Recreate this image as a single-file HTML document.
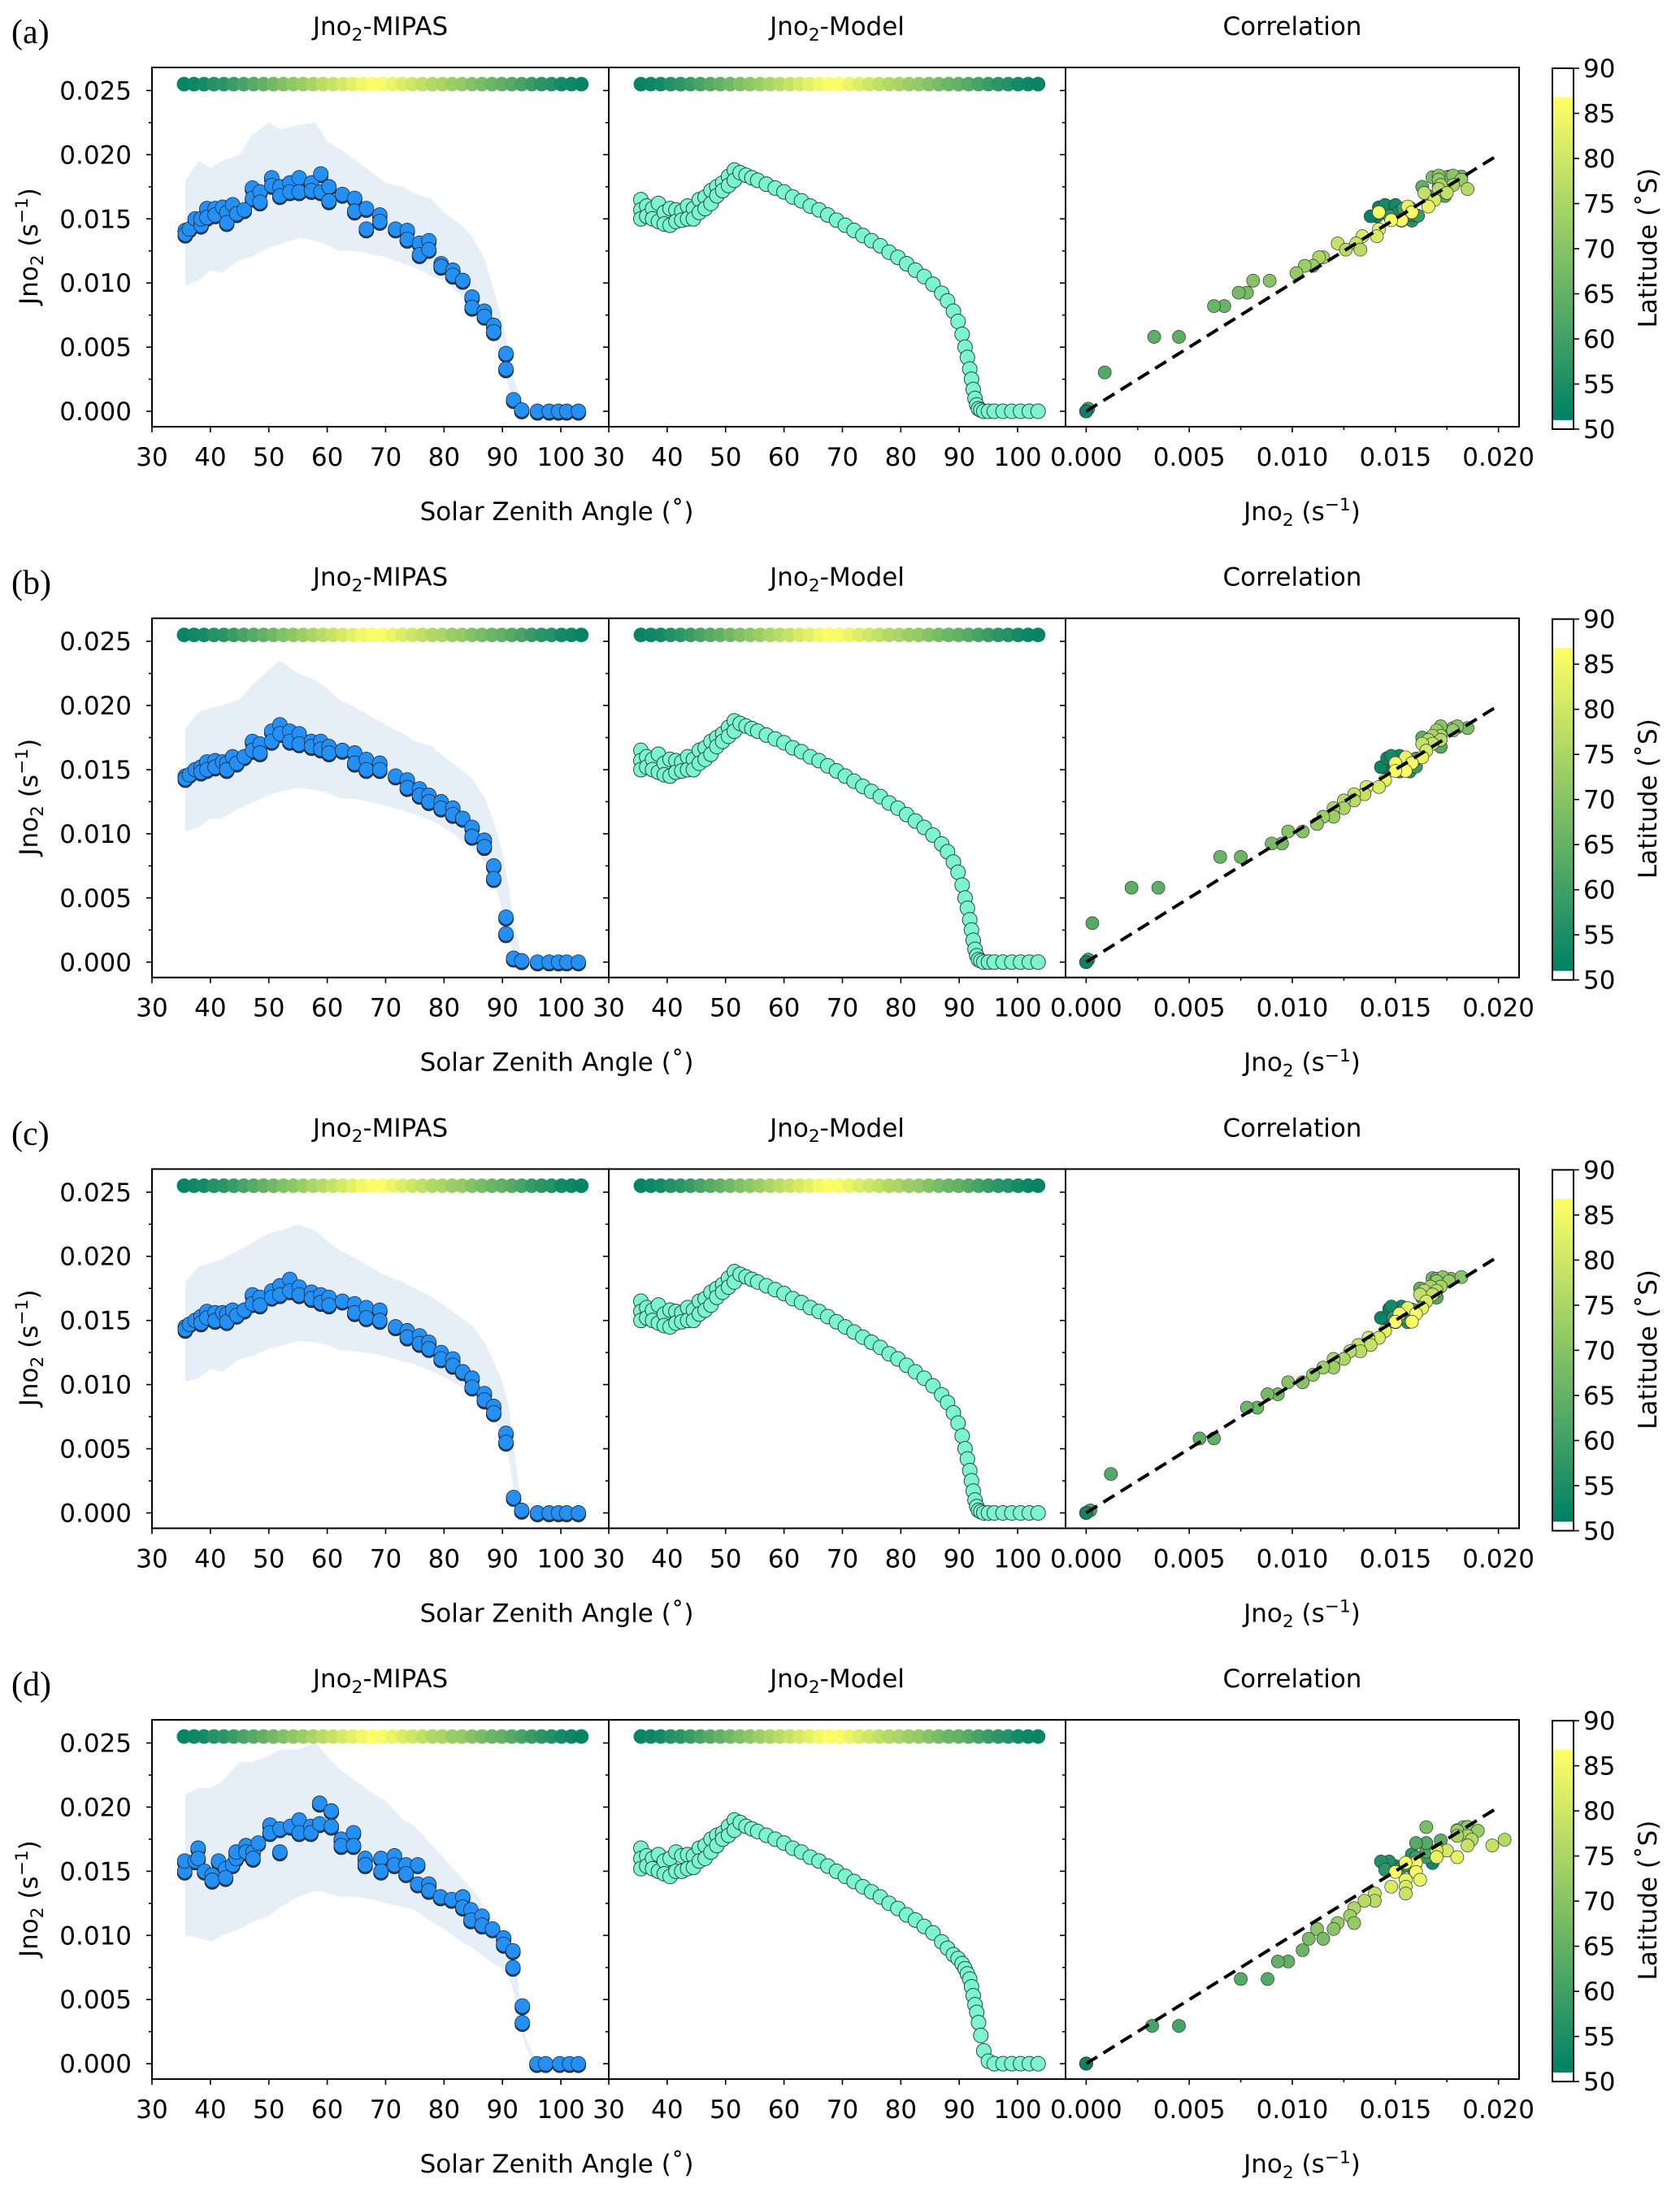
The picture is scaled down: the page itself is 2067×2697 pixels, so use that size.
<!DOCTYPE html>
<html><head><meta charset="utf-8"><style>
html,body{margin:0;padding:0;background:#fff;}
svg{display:block;font-family:"DejaVu Sans","Liberation Sans",sans-serif;}
</style></head><body>
<svg id="fig" width="2067" height="2697" viewBox="0 0 2067 2697" xmlns="http://www.w3.org/2000/svg">
<defs><linearGradient id="summer" x1="0" y1="1" x2="0" y2="0"><stop offset="0" stop-color="rgb(0,128,102)"/><stop offset="1" stop-color="rgb(255,255,102)"/></linearGradient></defs>
</svg>
<script>
// ---------- data ----------
const rowLetters = ["(a)","(b)","(c)","(d)"];
const mipasSzaABC = [35.7,35.7,36.4,37.4,38.4,38.4,39.4,39.4,40.8,40.8,42.1,42.8,42.8,43.8,44.5,45.8,47.2,47.2,48.5,48.5,50.5,50.5,51.9,51.9,53.6,53.6,55.2,55.2,57.3,57.3,58.9,58.9,60.3,60.3,62.6,64.7,64.7,66.7,66.7,69,69,71.7,73.7,73.7,75.8,75.8,77.4,77.4,79.5,79.5,81.5,81.5,83.2,84.8,84.8,86.9,86.9,88.5,88.5,90.6,90.6,91.9,93.3,96,98,99.6,101,103];
const mipasJA = [0.0141,0.0138,0.0142,0.015,0.0145,0.015,0.0158,0.0151,0.0158,0.0153,0.0159,0.0155,0.0147,0.0161,0.0154,0.0157,0.0174,0.0166,0.0171,0.0163,0.0182,0.0176,0.0175,0.0168,0.0178,0.0171,0.0182,0.0171,0.0178,0.0172,0.0185,0.0171,0.0175,0.0164,0.0169,0.0166,0.0156,0.0158,0.0142,0.0153,0.0148,0.0142,0.0141,0.0134,0.0131,0.0122,0.0133,0.0126,0.0115,0.0113,0.011,0.0106,0.0102,0.0089,0.0081,0.0078,0.0074,0.0067,0.0062,0.0045,0.0033,0.0009,0.0001,0,0,0,0,0];
const mipasJB = [0.0145,0.0143,0.0146,0.015,0.0152,0.0148,0.0156,0.015,0.0157,0.0152,0.0156,0.0155,0.015,0.016,0.0155,0.016,0.0172,0.0165,0.017,0.0163,0.018,0.0172,0.0185,0.0178,0.018,0.0172,0.0178,0.017,0.0172,0.0168,0.0172,0.0166,0.0168,0.0163,0.0165,0.0163,0.0155,0.0158,0.015,0.0155,0.015,0.0145,0.0142,0.0136,0.0135,0.013,0.013,0.0125,0.0125,0.012,0.012,0.0115,0.0112,0.0105,0.0098,0.0095,0.009,0.0075,0.0065,0.0035,0.0022,0.0003,0.0001,0,0,0,0,0];
const mipasJC = [0.0145,0.0143,0.0147,0.015,0.0153,0.0148,0.0157,0.0152,0.0156,0.015,0.0156,0.0155,0.0149,0.0158,0.0154,0.0158,0.017,0.0163,0.0168,0.0162,0.0173,0.0168,0.0177,0.017,0.0182,0.0173,0.0176,0.017,0.0172,0.0167,0.017,0.0164,0.0168,0.0162,0.0165,0.0163,0.0156,0.016,0.0152,0.0158,0.015,0.0145,0.0142,0.0137,0.0138,0.0132,0.0133,0.0128,0.0125,0.012,0.012,0.0115,0.011,0.0105,0.0098,0.0093,0.0088,0.0083,0.0078,0.0062,0.0055,0.0012,0.0002,0,0,0,0,0];
const mipasSzaD = [35.6,35.6,37.4,37.9,37.9,39,40.3,40.3,41.4,42.6,42.6,43.8,44.4,44.4,46.1,46.1,47.3,47.3,48.2,50.2,50.2,51.9,51.9,53.7,55.2,55.2,57.2,57.2,58.7,58.7,60.7,60.7,62.4,62.4,64.5,64.5,66.5,66.5,69.2,69.2,71.5,71.5,73.5,73.5,75.5,75.5,77.4,77.4,79.4,81.3,83.2,83.2,84.6,84.6,86.5,86.5,88.3,90.2,90.2,91.8,91.8,93.4,93.4,95.9,97.4,99.8,101.5,103];
const mipasJD = [0.015,0.0158,0.0158,0.0168,0.016,0.015,0.0147,0.0143,0.0158,0.0152,0.0145,0.0155,0.016,0.0165,0.017,0.0165,0.0165,0.016,0.0172,0.0186,0.018,0.0183,0.0165,0.0185,0.019,0.018,0.0185,0.018,0.0203,0.0187,0.0197,0.0185,0.0175,0.017,0.018,0.017,0.016,0.0155,0.016,0.015,0.0162,0.0155,0.0155,0.0148,0.0155,0.014,0.014,0.0135,0.013,0.0128,0.013,0.0122,0.012,0.0112,0.0115,0.0108,0.0105,0.0098,0.0093,0.0088,0.0075,0.0045,0.0032,0,0,0,0,0];

const bandSza = [35.7,38,40,42,45,47,50,52,55,58,60,62,65,68,70,73,75,78,80,83,85,87,88.5,90,91,92,93,94,96,103];
const bandLoA = [0.0098,0.0102,0.011,0.0108,0.0118,0.012,0.0128,0.013,0.0135,0.0133,0.013,0.0125,0.0125,0.0122,0.012,0.0115,0.0112,0.0105,0.0102,0.009,0.0082,0.0072,0.006,0.0038,0.002,0.0005,0,0,0,0];
const bandHiA = [0.018,0.0195,0.019,0.0195,0.02,0.0215,0.0225,0.022,0.0223,0.0225,0.021,0.0205,0.0195,0.0185,0.0178,0.0175,0.017,0.0165,0.0155,0.0145,0.0135,0.0118,0.0095,0.007,0.005,0.0025,0.001,0,0,0];
const bandLoB = [0.0102,0.0105,0.0112,0.0112,0.012,0.0124,0.013,0.0133,0.0136,0.0134,0.0132,0.0128,0.0127,0.0124,0.0122,0.0118,0.0115,0.011,0.0105,0.0095,0.0088,0.0078,0.0065,0.004,0.002,0.0003,0,0,0,0];
const bandHiB = [0.0182,0.0195,0.0198,0.02,0.0205,0.0215,0.0228,0.0235,0.0225,0.022,0.0213,0.0205,0.0198,0.019,0.0185,0.0178,0.0172,0.0168,0.016,0.015,0.0142,0.0128,0.011,0.0085,0.006,0.003,0.001,0,0,0];
const bandLoC = [0.0102,0.0105,0.0112,0.011,0.012,0.0122,0.0128,0.013,0.0134,0.0133,0.0131,0.0127,0.0126,0.0124,0.0122,0.0118,0.0116,0.011,0.0106,0.0098,0.009,0.0082,0.0072,0.006,0.0045,0.0015,0,0,0,0];
const bandHiC = [0.018,0.0192,0.0195,0.0198,0.0205,0.021,0.0218,0.022,0.0225,0.022,0.0212,0.0205,0.0198,0.019,0.0185,0.018,0.0175,0.0168,0.0162,0.0152,0.0145,0.0132,0.0118,0.0102,0.0085,0.005,0.0015,0,0,0];
const bandLoD = [0.01,0.0098,0.0095,0.01,0.0105,0.011,0.0115,0.0122,0.013,0.0135,0.0133,0.013,0.013,0.0128,0.0125,0.0122,0.012,0.011,0.0105,0.0095,0.009,0.0083,0.0078,0.0074,0.0068,0.0055,0.003,0.0012,0,0];
const bandHiD = [0.021,0.0215,0.0215,0.022,0.0235,0.0235,0.024,0.0245,0.0245,0.025,0.024,0.023,0.022,0.021,0.0205,0.019,0.0185,0.017,0.016,0.0145,0.0135,0.0122,0.0112,0.0105,0.0098,0.0088,0.005,0.002,0,0];

const modelSza = [35.5,35.5,35.5,36.5,36.5,37.5,37.5,38.5,38.5,39.5,39.5,40.5,40.5,41.5,41.5,42.5,42.5,43.5,43.5,44.5,44.5,45.5,45.5,46.5,46.5,47.5,47.5,48.5,48.5,49.5,49.5,50.5,50.5,51.5,51.5,52.5,53.5,54.5,55.5,57,58.5,60,61.5,63,64.5,66,67.5,69,70.5,72,73.5,75,76.5,78,79.5,81,82.5,84,85.5,87,88,89,89.8,90.5,91,91.4,91.8,92.1,92.4,92.7,93,93.3,93.7,94.2,95,96,97.5,99,100.5,102,103.5];
const modelJABC = [0.0165,0.0157,0.015,0.016,0.0152,0.0158,0.015,0.0162,0.0148,0.0155,0.0146,0.0158,0.0145,0.0157,0.0148,0.0156,0.0149,0.016,0.015,0.0158,0.015,0.0165,0.0155,0.0167,0.0158,0.0172,0.0162,0.0175,0.0168,0.0178,0.0172,0.0183,0.0176,0.0188,0.018,0.0186,0.0184,0.0182,0.018,0.0177,0.0174,0.0171,0.0167,0.0164,0.016,0.0157,0.0153,0.0149,0.0145,0.0141,0.0137,0.0133,0.0129,0.0124,0.012,0.0115,0.011,0.0105,0.0099,0.0092,0.0086,0.0078,0.007,0.006,0.005,0.0042,0.0033,0.0025,0.0017,0.001,0.0005,0.0002,0.0001,0,0,0,0,0,0,0,0];
const modelJD = [0.0168,0.016,0.0152,0.0162,0.0154,0.016,0.0152,0.0163,0.015,0.0158,0.0148,0.016,0.0146,0.0165,0.015,0.0162,0.015,0.0163,0.0152,0.0162,0.0153,0.0168,0.0158,0.017,0.016,0.0175,0.0165,0.0178,0.017,0.018,0.0175,0.0185,0.0178,0.019,0.0182,0.0188,0.0185,0.0183,0.0181,0.0178,0.0175,0.0172,0.0168,0.0165,0.0161,0.0158,0.0154,0.015,0.0146,0.0142,0.0138,0.0134,0.013,0.0125,0.0121,0.0116,0.0112,0.0107,0.0102,0.0095,0.009,0.0085,0.0082,0.0078,0.0074,0.007,0.0066,0.006,0.0053,0.0046,0.004,0.0032,0.0022,0.001,0.0002,0,0,0,0,0,0];

const stripSza = [35.5,37.2,38.9,40.6,42.3,44,45.7,47.4,49.1,50.8,52.5,54.2,55.9,57.6,59.3,61,62.7,64.4,66.1,67.8,69.5,71.2,72.9,74.6,76.3,78,79.7,81.4,83.1,84.8,86.5,88.2,89.9,91.6,93.3,95,96.7,98.4,100.1,101.8,103.5];
const stripLat = [52,53,54,56,57,59,61,63,65,67,69,71,73,75,77,79,81,83,85,86.5,86,84,82,80,78,76,75,73,72,70,68,66,65,63,61,59,57,56,54,53,52];

const yTicks = [0,0.005,0.01,0.015,0.02,0.025];
const yTickLabels = ["0.000","0.005","0.010","0.015","0.020","0.025"];
const szaTicks = [30,40,50,60,70,80,90,100];
const corrTicks = [0,0.005,0.01,0.015,0.02];
const corrTickLabels = ["0.000","0.005","0.010","0.015","0.020"];
const cbTicks = [50,55,60,65,70,75,80,85,90];

const rows = [
 {sza:mipasSzaABC, j:mipasJA, lo:bandLoA, hi:bandHiA, mj:modelJABC},
 {sza:mipasSzaABC, j:mipasJB, lo:bandLoB, hi:bandHiB, mj:modelJABC},
 {sza:mipasSzaABC, j:mipasJC, lo:bandLoC, hi:bandHiC, mj:modelJABC},
 {sza:mipasSzaD, j:mipasJD, lo:bandLoD, hi:bandHiD, mj:modelJD}
];

// ---------- layout ----------
const NS = "http://www.w3.org/2000/svg";
const svg = document.getElementById("fig");
const ROWH = 677.7;
const P = [[187,749],[749,1311],[1311,1869]];
const TOP = 83, BOT = 525;
const SZA0 = 30, SZA1 = 108.2, C0 = -0.001, C1 = 0.021;
const Y0 = -0.0012, Y1 = 0.0268;
function el(tag, attrs, parent){ const e=document.createElementNS(NS,tag); for(const k in attrs) e.setAttribute(k,attrs[k]); (parent||svg).appendChild(e); return e; }
function sxS(p,v){ return P[p][0] + (v-SZA0)/(SZA1-SZA0)*(P[p][1]-P[p][0]); }
function sxC(v){ return P[2][0] + (v-C0)/(C1-C0)*(P[2][1]-P[2][0]); }
function sy(v,off){ return off + BOT - (v-Y0)/(Y1-Y0)*(BOT-TOP); }
function summer(lat){ let t=(lat-51)/(86.8-51); t=Math.max(0,Math.min(1,t)); return `rgb(${Math.round(255*t)},${Math.round(255*(0.5+0.5*t))},102)`; }
function interp(xs,ys,x){ if(x<=xs[0]) return ys[0]; for(let i=1;i<xs.length;i++){ if(x<=xs[i]){ const f=(x-xs[i-1])/(xs[i]-xs[i-1]||1); return ys[i-1]+f*(ys[i]-ys[i-1]); } } return ys[ys.length-1]; }
function jnoText(parent, x, y, size, anchor, withUnit, transform){
  const t = el("text",{x:x,y:y,"font-size":size,"text-anchor":anchor,fill:"#000"},parent);
  if(transform) t.setAttribute("transform",transform);
  const a=el("tspan",{},t); a.textContent="Jno";
  const b=el("tspan",{"font-size":size*0.7,dy:size*0.22},t); b.textContent="2";
  if(withUnit){
    const c=el("tspan",{dy:-size*0.22},t); c.textContent=" (s";
    const d=el("tspan",{"font-size":size*0.7,dy:-size*0.38},t); d.textContent="−1";
    const e2=el("tspan",{dy:size*0.38},t); e2.textContent=")";
  }
  return t;
}
const FS = 31;

rows.forEach((row, r) => {
  const off = r*ROWH;
  const g = el("g",{});
  
  

  const lab = el("text",{x:14,y:off+53,"font-size":42,"font-family":"Liberation Serif, serif",fill:"#000"},g);
  lab.textContent = rowLetters[r];
  
  

  const t1 = jnoText(g,(P[0][0]+P[0][1])/2,off+43,FS,"middle",false);
  const t1b = el("tspan",{dy:-FS*0.22},t1); t1b.textContent="-MIPAS";
  
  
  const t2 = jnoText(g,(P[1][0]+P[1][1])/2,off+43,FS,"middle",false);
  const t2b = el("tspan",{dy:-FS*0.22},t2); t2b.textContent="-Model";
  
  
  const t3 = el("text",{x:(P[2][0]+P[2][1])/2,y:off+43,"font-size":FS,"text-anchor":"middle"},g);
  t3.textContent="Correlation";
  
  

  let d = "";
  bandSza.forEach((s,i)=>{ d += (i?"L":"M")+sxS(0,s).toFixed(1)+","+sy(row.hi[i],off).toFixed(1); });
  for(let i=bandSza.length-1;i>=0;i--) d += "L"+sxS(0,bandSza[i]).toFixed(1)+","+sy(row.lo[i],off).toFixed(1);
  const band = el("path",{d:d+"Z",fill:"#e6eff8"},g);
  
  

  [0,1].forEach(p=>{
    stripSza.forEach((s,i)=>{
      const c = el("circle",{cx:sxS(p,s),cy:sy(0.0255,off),r:9,fill:summer(stripLat[i])},g);
      
      
    });
  });

  row.sza.forEach((s,i)=>{
    const c = el("circle",{cx:sxS(0,s),cy:sy(row.j[i],off)+2,r:9,fill:"#1b4f86",stroke:"#111","stroke-width":0.8},g);
    
    
  });
  row.sza.forEach((s,i)=>{
    const c = el("circle",{cx:sxS(0,s),cy:sy(row.j[i],off),r:9,fill:"#2490f5",stroke:"#1a2a3a","stroke-width":0.8},g);
    
    
  });

  modelSza.forEach((s,i)=>{
    const c = el("circle",{cx:sxS(1,s),cy:sy(row.mj[i],off),r:9,fill:"#7cf5cf",stroke:"#24493e","stroke-width":1},g);
    
    
  });

  row.sza.forEach((s,i)=>{
    const mv = interp(modelSza,row.mj,s);
    const lat = interp(stripSza,stripLat,s);
    const c = el("circle",{cx:sxC(row.j[i]),cy:sy(mv,off),r:8,fill:summer(lat),stroke:"#333","stroke-width":0.7},g);
    
    
  });
  const ln = el("line",{x1:sxC(0),y1:sy(0,off),x2:sxC(0.02),y2:sy(0.02,off),stroke:"#000","stroke-width":4,"stroke-dasharray":"16,9"},g);
  
  

  P.forEach((pp,p)=>{
    const fr = el("rect",{x:pp[0],y:off+TOP,width:pp[1]-pp[0],height:BOT-TOP,fill:"none",stroke:"#000","stroke-width":2},g);
    
    
    for(let k=0;k<=10;k++){
      const v=k*0.0025, y=sy(v,off);
      const tk = el("line",{x1:pp[0]-(k%2?4:7),x2:pp[0],y1:y,y2:y,stroke:"#000","stroke-width":1.6},g);
      
      
    }
    if(p<2){
      szaTicks.forEach(v=>{
        const x=sxS(p,v);
        const tk = el("line",{x1:x,x2:x,y1:off+BOT,y2:off+BOT+7,stroke:"#000","stroke-width":1.6},g);
        
        
        const tl = el("text",{x:x,y:off+573,"font-size":FS,"text-anchor":"middle"},g);
        tl.textContent=String(v);
        
        
      });
    } else {
      for(let k=0;k<=8;k++){
        const x=sxC(k*0.0025);
        const tk = el("line",{x1:x,x2:x,y1:off+BOT,y2:off+BOT+(k%2?4:7),stroke:"#000","stroke-width":1.6},g);
        
        
      }
      corrTicks.forEach((v,i)=>{
        const tl = el("text",{x:sxC(v),y:off+573,"font-size":FS,"text-anchor":"middle"},g);
        tl.textContent=corrTickLabels[i];
        
        
      });
    }
  });
  yTicks.forEach((v,i)=>{
    const tl = el("text",{x:162,y:sy(v,off)+11,"font-size":FS,"text-anchor":"end"},g);
    tl.textContent=yTickLabels[i];
    
    
  });
  const yl = jnoText(g,0,0,FS,"middle",true,`translate(46,${off+303}) rotate(-90)`);
  
  
  const xl = el("text",{x:685,y:off+640,"font-size":FS,"text-anchor":"middle"},g);
  xl.textContent="Solar Zenith Angle (˚)";
  
  
  const xl2 = jnoText(g,1602,off+640,FS,"middle",true);
  
  

  const cbx=1910, cbw=26, cbt=off+84, cbb=off+528;
  const cy = v => cbb - (v-50)/40*(cbb-cbt);
  const grad = el("rect",{x:cbx,y:cy(86.8),width:cbw,height:cy(51)-cy(86.8),fill:"url(#summer)"},g);
  
  
  const cbf = el("rect",{x:cbx,y:cbt,width:cbw,height:cbb-cbt,fill:"none",stroke:"#000","stroke-width":2},g);
  
  
  cbTicks.forEach(v=>{
    const tk = el("line",{x1:cbx+cbw,x2:cbx+cbw+7,y1:cy(v),y2:cy(v),stroke:"#000","stroke-width":1.6},g);
    
    
    const tl = el("text",{x:cbx+cbw+12,y:cy(v)+11,"font-size":FS},g);
    tl.textContent=String(v);
    
    
  });
  const cl = el("text",{x:0,y:0,"font-size":FS,"text-anchor":"middle",transform:`translate(2038,${off+305}) rotate(-90)`},g);
  cl.textContent="Latitude (˚S)";
  
  
});
</script>
</body></html>
